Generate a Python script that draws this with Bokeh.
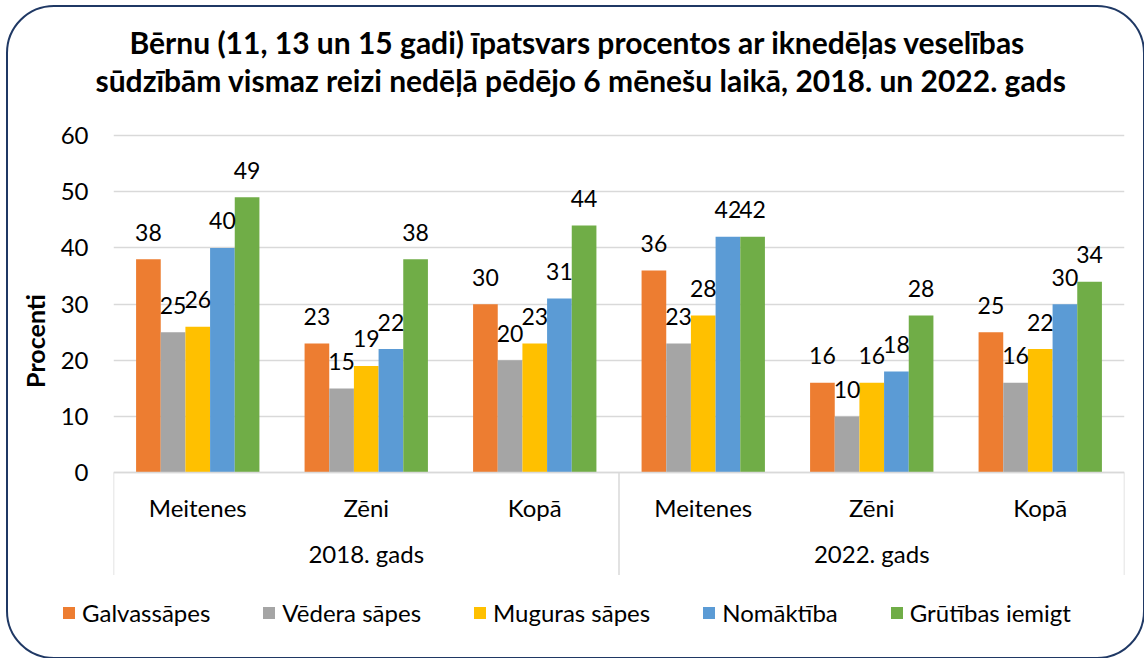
from bokeh.plotting import figure
from bokeh.layouts import column
from bokeh.models import (FactorRange, Range1d, FixedTicker, ColumnDataSource,
                          LabelSet, Legend, LegendItem, Title)
from bokeh.core.properties import value
from bokeh.transform import dodge
from bokeh.embed import file_html
from bokeh.resources import INLINE

# ---------------- data ----------------
title_lines = ["Bērnu (11, 13 un 15 gadi) īpatsvars procentos ar iknedēļas veselības",
               "sūdzībām vismaz reizi nedēļā pēdējo 6 mēnešu laikā, 2018. un 2022. gads"]
years = ["2018. gads", "2022. gads"]
groups = ["Meitenes", "Zēni", "Kopā"]
series_names = ["Galvassāpes", "Vēdera sāpes", "Muguras sāpes", "Nomāktība", "Grūtības iemigt"]
galvassapes = [38, 23, 30, 36, 16, 25]
vedera_sapes = [25, 15, 20, 23, 10, 16]
muguras_sapes = [26, 19, 23, 28, 16, 22]
nomaktiba = [40, 22, 31, 42, 18, 30]
grutibas_iemigt = [49, 38, 44, 42, 28, 34]
y_ticks = [0, 10, 20, 30, 40, 50, 60]
y_title = "Procenti"

series_values = [galvassapes, vedera_sapes, muguras_sapes, nomaktiba, grutibas_iemigt]
colors = ["#ED7D31", "#A5A5A5", "#FFC000", "#5B9BD5", "#70AD47"]

FONT = "Lato"
GRID = "#D9D9D9"
factors = [(y, g) for y in years for g in groups]

p = figure(width=1135, height=588,
           x_range=FactorRange(*factors, factor_padding=0, group_padding=0,
                               subgroup_padding=0, range_padding=0),
           y_range=Range1d(-19.87, 66.76),
           output_backend="svg", toolbar_location=None, title=None,
           min_border_left=105, min_border_right=19,
           min_border_top=90, min_border_bottom=11)
p.border_fill_color = None
p.background_fill_color = None
p.outline_line_color = None

n = len(series_names)
bar_w = 0.1464
renderers = []
for i, (name, vals, col) in enumerate(zip(series_names, series_values, colors)):
    off = (i - (n - 1) / 2) * bar_w
    src = ColumnDataSource(dict(x=factors, top=vals, lbl=[str(v) for v in vals]))
    r = p.vbar(x=dodge("x", off, range=p.x_range), top="top", width=bar_w,
               source=src, fill_color=col, line_color=None)
    renderers.append(r)
    p.add_layout(LabelSet(x=dodge("x", off, range=p.x_range), y="top", text="lbl",
                          source=src, y_offset=27, text_align="center",
                          text_baseline="middle", text_font=value(FONT),
                          text_font_size="23px", text_color="#000000"))

# category separators (left edge, between years, right edge)
sep_x = [(years[0], groups[0], -0.5), (years[1], groups[0], -0.5), (years[-1], groups[-1], 0.5)]
p.segment(x0=sep_x, x1=sep_x, y0=[0] * 3, y1=[-18.2] * 3,
          line_color=GRID, line_width=1.5)

# axes
xa = p.xaxis[0]
xa.fixed_location = 0
xa.axis_line_color = GRID
xa.axis_line_width = 1.5
xa.major_tick_line_color = None
xa.minor_tick_line_color = None
xa.separator_line_color = None
xa.major_label_text_font = FONT
xa.major_label_text_font_size = "24px"
xa.major_label_text_color = "#000000"
xa.major_label_standoff = 14
xa.group_text_font = FONT
xa.group_text_font_size = "24px"
xa.group_text_font_style = "normal"
xa.group_text_color = "#000000"

ya = p.yaxis[0]
ya.ticker = FixedTicker(ticks=y_ticks)
ya.bounds = (0, 60)
ya.axis_line_color = None
ya.major_tick_line_color = None
ya.minor_tick_line_color = None
ya.major_tick_out = 0
ya.major_tick_in = 0
ya.major_label_standoff = 25
ya.major_label_text_font = FONT
ya.major_label_text_font_size = "24px"
ya.major_label_text_color = "#000000"
ya.axis_label = y_title
ya.axis_label_text_font = FONT
ya.axis_label_text_font_size = "25px"
ya.axis_label_text_font_style = "bold"
ya.axis_label_text_color = "#000000"
ya.axis_label_standoff = 8

p.xgrid.grid_line_color = None
p.ygrid.grid_line_color = GRID
p.ygrid.grid_line_width = 1.5

# title lines (second line nearest the frame)
for txt, off in zip(reversed(title_lines), [-18, 16]):
    p.add_layout(Title(text=txt, align="left", offset=off, text_font=FONT,
                       text_font_size="30px", text_font_style="bold",
                       text_color="#000000", standoff=0), "above")

# legend strip (its frame is aligned with the main frame; shifted left by CSS)
lf = figure(width=1135, height=62, x_range=Range1d(0, 1), y_range=Range1d(0, 1),
            x_axis_type=None, y_axis_type=None, output_backend="svg",
            toolbar_location=None, min_border=0)
lf.grid.visible = False
lf.outline_line_color = None
lf.border_fill_color = None
lf.background_fill_color = None
lf.styles = {"transform": "translateX(-52px)"}
leg_items = []
for name, col in zip(series_names, colors):
    # swatch-only renderer (zero-height bar, nothing drawn in the strip)
    lr = lf.vbar(x=[0.5], top=[0], bottom=[0], width=0.01, fill_color=col, line_color=None)
    leg_items.append(LegendItem(label=name, renderers=[lr]))
legend = Legend(items=leg_items, location=(0, 30), orientation="horizontal",
                glyph_width=15, glyph_height=15, label_standoff=6, spacing=51,
                padding=0, margin=0, border_line_color=None,
                background_fill_alpha=0, label_text_font=FONT,
                label_text_font_size="24px", label_text_color="#000000")
lf.add_layout(legend)

layout = column(p, lf, spacing=0)
layout.styles = {"border": "2px solid #1F3864", "border-radius": "48px",
                 "margin-left": "6px", "margin-top": "5px"}

open("out.html", "w").write(file_html(layout, INLINE))
